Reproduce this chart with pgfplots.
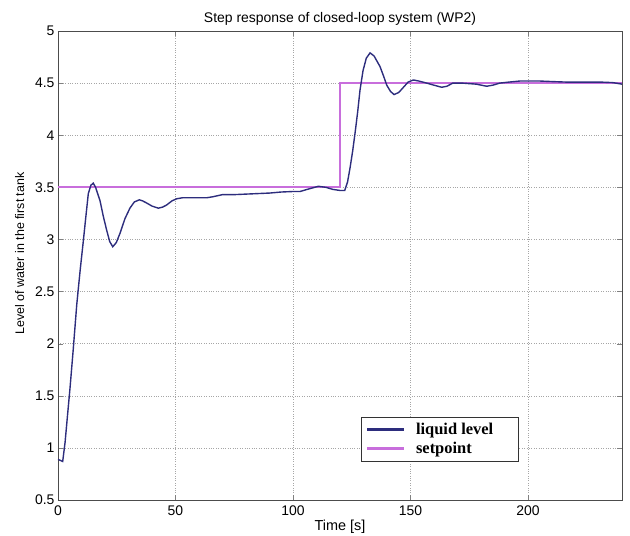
\documentclass[border=0pt]{standalone}
\usepackage{pgfplots}
\pgfplotsset{compat=1.18}
\usepackage{fontspec}
\setmainfont{Liberation Sans}
\newfontfamily\legfont{Liberation Serif}
\definecolor{levelc}{RGB}{45,45,125}
\definecolor{legc}{RGB}{25,25,110}
\definecolor{spc}{RGB}{200,110,220}
\begin{document}
\begin{tikzpicture}
\useasboundingbox (-58bp,-36bp) rectangle (572bp,500bp);
\begin{axis}[
  scale only axis,
  width=564bp, height=469bp,
  xmin=0, xmax=240, ymin=0.5, ymax=5,
  xtick={0,50,100,150,200},
  ytick={0.5,1,1.5,2,2.5,3,3.5,4,4.5,5},
  yticklabels={0.5,1,1.5,2,2.5,3,3.5,4,4.5,5},
  grid=major,
  major grid style={dotted, gray!70},
  tick align=inside,
  major tick length=5bp,
  axis line style={black!70},
  /pgf/number format/assume math mode=true,
  ticklabel style={font=\fontsize{14}{16}\selectfont},
  xticklabel style={yshift=-2bp},
  title={Step response of closed-loop system (WP2)},
  title style={font=\fontsize{14}{16}\selectfont, yshift=-4bp},
  xlabel={Time [s]},
  ylabel={Level of water in the first tank},
  xlabel style={font=\fontsize{14.5}{16}\selectfont, yshift=2bp},
  ylabel style={font=\fontsize{12.5}{14}\selectfont, yshift=4bp, xshift=12bp},
  legend style={at={(rel axis cs:0.537,0.177)}, anchor=north west,
    font=\legfont\bfseries\fontsize{16.5}{20}\selectfont, draw=black!80,
    inner xsep=3bp, inner ysep=4bp, row sep=2bp, legend cell align=left},
  legend image code/.code={\draw[#1, line width=3pt] (3bp,0bp) -- (40bp,0bp);
    \path[draw=none] (0bp,0bp) -- (50bp,0bp);},
]
\addplot[spc, line width=1.8pt, forget plot] coordinates {
(0,3.5) (120,3.5) (120,4.5) (240,4.5)
};
\addplot[levelc, line width=1.4pt] coordinates {
(0,0.89) (1,0.88) (2,0.87) (3,1.05) (4,1.3) (5.1,1.57) (6.5,1.95) (8,2.38) (9.5,2.72)
(10.8,2.99) (12,3.25) (12.9,3.44) (14,3.52) (15,3.54) (16,3.5) (17.9,3.37)
(19.3,3.22) (20.7,3.09) (22,2.98) (23.3,2.93) (24.8,2.97) (26.4,3.06)
(28.5,3.2) (30.6,3.30) (32.5,3.36) (34.6,3.38) (36,3.37) (37.7,3.35) (40,3.32)
(42.7,3.30) (44.5,3.31) (46.2,3.33) (48.5,3.37) (50.5,3.39) (53,3.40) (56,3.40)
(60,3.40) (63.3,3.40) (66,3.41) (70,3.43) (75,3.43) (80,3.435) (85,3.44)
(90,3.445) (95,3.455) (100,3.46) (103,3.46) (106,3.48) (110.8,3.51) (114,3.50)
(117,3.48) (120,3.47) (122,3.47) (123.2,3.55) (124.3,3.69) (125.4,3.85)
(126.4,4.02) (127.5,4.22) (128.5,4.43) (129.8,4.62) (131.2,4.74) (132.8,4.79)
(134.5,4.76) (137,4.66) (138.5,4.57) (139.9,4.48) (141.5,4.42) (143,4.39)
(145,4.41) (147,4.46) (149,4.51) (151.2,4.53) (153.5,4.52) (156.9,4.50)
(160,4.48) (163.3,4.46) (165.5,4.47) (168,4.50) (172,4.50) (178,4.49)
(182.4,4.47) (185,4.48) (188,4.50) (192,4.51) (196.6,4.52) (200,4.52)
(205,4.52) (210,4.515) (216,4.51) (222,4.51) (230.6,4.51) (236,4.505) (240,4.49)
};
\addlegendentry{liquid level\rule{20bp}{0pt}}
\addlegendimage{spc}
\addlegendentry{setpoint}
\end{axis}
\end{tikzpicture}
\end{document}
